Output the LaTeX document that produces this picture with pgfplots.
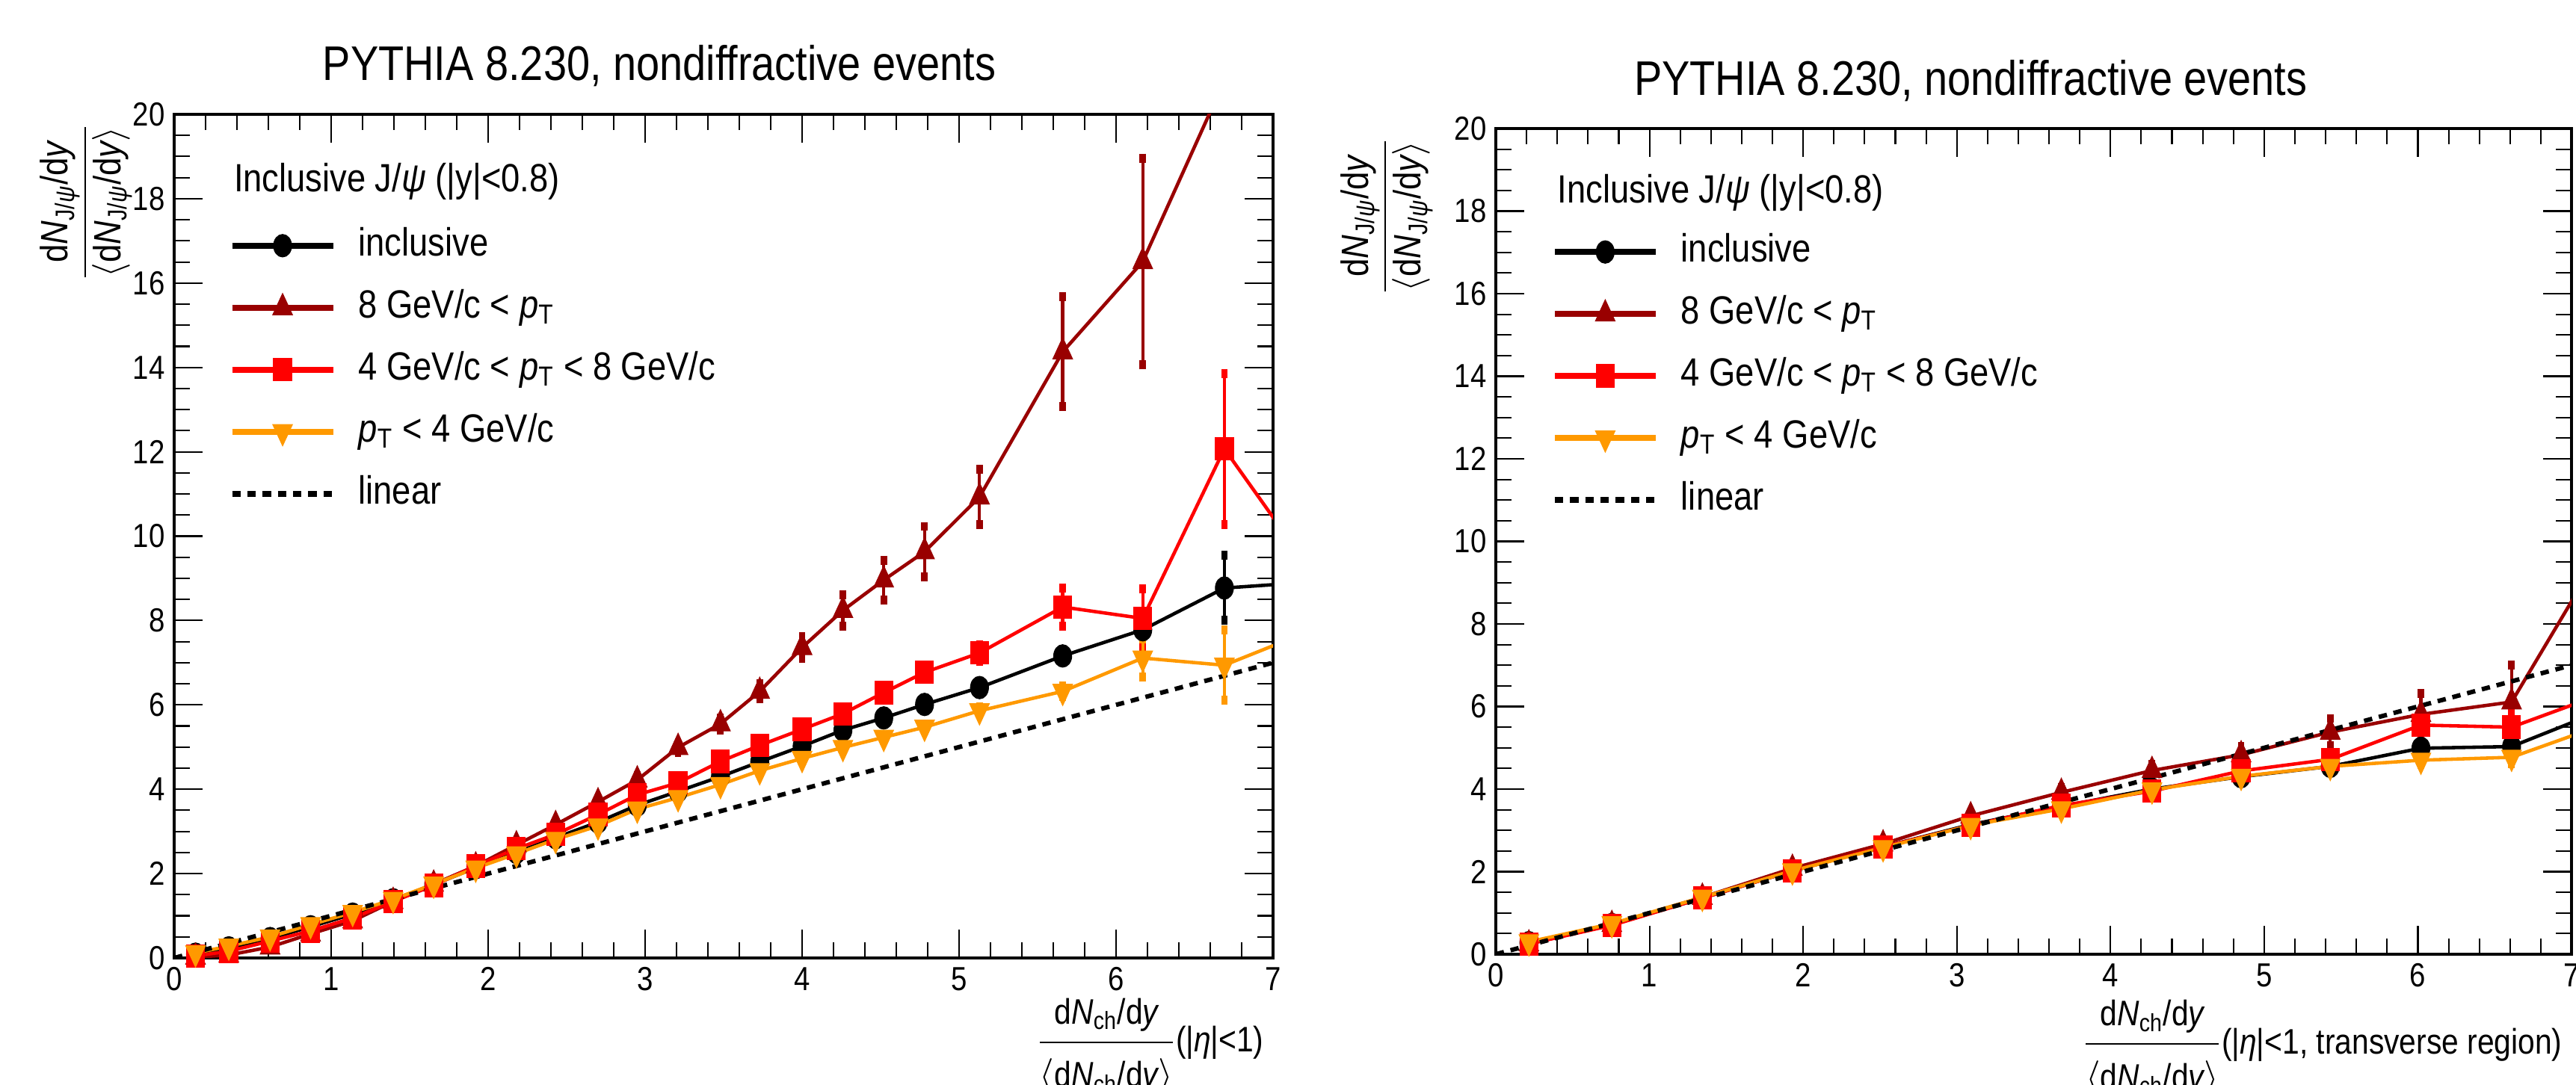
\documentclass[border=0pt]{standalone}
\usepackage{pgfplots}
\usepackage{pgfplotstable}
\pgfplotsset{compat=1.18}
\usepackage{amsmath}
\usepackage{fontspec}
\setmainfont{Liberation Sans}[FakeStretch=0.86]
\definecolor{cdred}{RGB}{153,0,0}
\definecolor{cred}{RGB}{255,0,0}
\definecolor{corange}{RGB}{255,153,0}

% ---------------- left panel data (|eta|<1) ----------------
\pgfplotstableread{
x y e
0.136 0.09 0.02
0.348 0.24 0.02
0.611 0.46 0.02
0.869 0.74 0.02
1.137 1.04 0.02
1.395 1.38 0.02
1.653 1.74 0.03
1.921 2.14 0.03
2.180 2.50 0.03
2.430 2.85 0.03
2.700 3.22 0.03
2.950 3.62 0.04
3.210 3.95 0.04
3.480 4.30 0.05
3.730 4.65 0.06
4.000 5.02 0.07
4.260 5.40 0.08
4.520 5.69 0.09
4.780 6.01 0.10
5.130 6.41 0.12
5.660 7.16 0.15
6.170 7.78 0.30
6.690 8.77 0.77
7.200 8.90 0
}\Lblack
\pgfplotstableread{
x y e
0.136 0.02 0.02
0.348 0.07 0.02
0.611 0.26 0.03
0.869 0.57 0.03
1.137 0.88 0.03
1.395 1.34 0.04
1.653 1.75 0.04
1.921 2.18 0.05
2.180 2.68 0.05
2.430 3.16 0.06
2.700 3.70 0.08
2.950 4.22 0.10
3.210 4.99 0.12
3.480 5.55 0.14
3.730 6.32 0.18
4.000 7.36 0.25
4.260 8.24 0.37
4.520 8.96 0.47
4.780 9.63 0.60
5.130 10.93 0.65
5.660 14.37 1.30
6.170 16.51 2.45
6.690 20.80 0
7.200 26.00 0
}\Ldred
\pgfplotstableread{
x y e
0.136 0.05 0.02
0.348 0.16 0.02
0.611 0.40 0.02
0.869 0.64 0.03
1.137 0.95 0.03
1.395 1.34 0.03
1.653 1.72 0.04
1.921 2.18 0.04
2.180 2.59 0.04
2.430 2.93 0.05
2.700 3.40 0.05
2.950 3.87 0.06
3.210 4.15 0.07
3.480 4.66 0.08
3.730 5.04 0.09
4.000 5.42 0.10
4.260 5.79 0.11
4.520 6.29 0.12
4.780 6.77 0.13
5.130 7.23 0.20
5.660 8.32 0.45
6.170 8.05 0.70
6.690 12.07 1.79
7.200 9.40 0
}\Lred
\pgfplotstableread{
x y e
0.136 0.12 0.02
0.348 0.28 0.02
0.611 0.50 0.02
0.869 0.79 0.02
1.137 1.08 0.02
1.395 1.39 0.02
1.653 1.75 0.02
1.921 2.13 0.03
2.180 2.47 0.03
2.430 2.81 0.03
2.700 3.13 0.03
2.950 3.53 0.04
3.210 3.80 0.04
3.480 4.11 0.04
3.730 4.44 0.05
4.000 4.73 0.05
4.260 4.99 0.06
4.520 5.23 0.07
4.780 5.47 0.08
5.130 5.86 0.09
5.660 6.32 0.12
6.170 7.11 0.45
6.690 6.94 0.83
7.200 7.70 0
}\Lorange

% ---------------- right panel data (transverse region) ----------------
\pgfplotstableread{
x y e
0.215 0.28 0.01
0.755 0.72 0.02
1.344 1.36 0.02
1.930 2.02 0.02
2.520 2.60 0.03
3.090 3.14 0.03
3.680 3.58 0.04
4.270 4.00 0.05
4.850 4.30 0.06
5.430 4.55 0.10
6.020 4.99 0.20
6.610 5.03 0.25
7.190 5.89 0
}\Rblack
\pgfplotstableread{
x y e
0.215 0.25 0.02
0.755 0.72 0.03
1.344 1.38 0.04
1.930 2.08 0.05
2.520 2.67 0.07
3.090 3.35 0.09
3.680 3.92 0.12
4.270 4.45 0.15
4.850 4.83 0.20
5.430 5.38 0.33
6.020 5.81 0.50
6.610 6.11 0.90
7.190 9.73 0
}\Rdred
\pgfplotstableread{
x y e
0.215 0.25 0.02
0.755 0.70 0.02
1.344 1.36 0.03
1.930 2.02 0.03
2.520 2.60 0.04
3.090 3.12 0.05
3.680 3.60 0.06
4.270 3.95 0.08
4.850 4.44 0.10
5.430 4.72 0.15
6.020 5.55 0.35
6.610 5.50 0.40
7.190 6.29 0
}\Rred
\pgfplotstableread{
x y e
0.215 0.30 0.01
0.755 0.74 0.01
1.344 1.38 0.02
1.930 2.02 0.02
2.520 2.58 0.02
3.090 3.12 0.03
3.680 3.52 0.03
4.270 3.98 0.04
4.850 4.31 0.05
5.430 4.55 0.06
6.020 4.70 0.10
6.610 4.77 0.15
7.190 5.54 0
}\Rorange

\newcommand{\xfrac}{\dfrac{\text{d}\textit{N}_{\text{ch}}\text{/d}\textit{y}\rule[-5pt]{0pt}{5pt}}{\rule{0pt}{15pt}\langle\text{d}\textit{N}_{\text{ch}}\text{/d}\textit{y}\rangle}}
\newcommand{\yfrac}{\dfrac{\text{d}\textit{N}_{\text{J/\textit{ψ}}}\text{/d}\textit{y}}{\langle\text{d}\textit{N}_{\text{J/\textit{ψ}}}\text{/d}\textit{y}\rangle}}

\pgfplotsset{
  rootstyle/.style={
    scale only axis, anchor=south west,
    xmin=0, xmax=7, ymin=0, ymax=20,
    xtick={0,1,...,7}, ytick={0,2,...,20},
    minor x tick num=4, minor y tick num=3,
    tick align=inside,
    major tick length=0.38cm, minor tick length=0.21cm,
    axis line style={line width=1pt},
    every tick/.style={black, line width=0.6pt},
    tick label style={font=\fontsize{12.7}{14}\selectfont},
    /pgf/number format/assume math mode=true,
    clip=true,
    every axis title/.style={font=\fontsize{18.5}{20}\selectfont, anchor=base, at={(0.4415,1.0407)}},
    every axis x label/.style={anchor=east, font=\fontsize{13.5}{15}\selectfont},
    every axis y label/.style={rotate=90, anchor=east, font=\fontsize{14.5}{16}\selectfont},
    legend cell align=left,
    legend style={draw=none, fill=none, inner sep=0pt, outer sep=0pt,
      row sep=0pt, column sep=0.3cm, anchor=north west,
      font=\fontsize{15}{16}\selectfont,
      nodes={inner ysep=0pt, inner xsep=0pt, text height=15.7pt, text depth=7.9pt}},
    legend image code/.code={%
      \draw[mark repeat=2, mark phase=2, ##1, line width=2.3pt]
        plot coordinates {(0cm,0cm) (0.675cm,0cm) (1.35cm,0cm)};},
  },
  ebar/.style={error bars/.cd, y dir=both, y explicit, error mark=-,
    error bar style={line width=1.2pt},
    error mark options={line width=2.5pt, mark size=1.7pt}},
  sblack/.style={black, line width=1.3pt, mark=*, mark size=4.3pt,
    mark options={solid, line width=0.3pt, xscale=0.8}},
  sdred/.style={cdred, line width=1.3pt, mark=triangle*, mark size=5.4pt,
    mark options={solid, line width=0.3pt, xscale=0.8}},
  sred/.style={cred, line width=1.3pt, mark=square*, mark size=4.3pt,
    mark options={solid, line width=0.3pt, xscale=0.8}},
  sorange/.style={corange, line width=1.3pt, mark=triangle*, mark size=5.4pt,
    mark options={solid, line width=0.3pt, xscale=0.8, rotate=180}},
  slin/.style={black, line width=1.7pt, dash pattern=on 3.2pt off 2.6pt, mark=none},
}

\begin{document}
\begin{tikzpicture}
\useasboundingbox (0,0) rectangle (34.46cm,14.52cm);

% ================= left panel =================
\begin{axis}[rootstyle,
  at={(2.33cm,1.70cm)}, width=14.70cm, height=11.29cm,
  title={PYTHIA 8.230, nondiffractive events},
  xlabel={$\xfrac$(|\textit{η}|<1)},
  xlabel style={at={(1,-0.106)}},
  ylabel={$\yfrac$},
  ylabel style={at={(-0.08,1)}},
  legend style={at={(0.050,0.881)}},
]
\addplot[sblack, ebar] table[x=x, y=y, y error=e] {\Lblack};
\addlegendentry{inclusive}
\addplot[sdred, ebar] table[x=x, y=y, y error=e] {\Ldred};
\addlegendentry{8 GeV/c < \textit{p}$_{\text{T}}$}
\addplot[sred, ebar] table[x=x, y=y, y error=e] {\Lred};
\addlegendentry{4 GeV/c < \textit{p}$_{\text{T}}$ < 8 GeV/c}
\addplot[sorange, ebar] table[x=x, y=y, y error=e] {\Lorange};
\addlegendentry{\textit{p}$_{\text{T}}$ < 4 GeV/c}
\addplot[slin] coordinates {(0,0) (7,7)};
\addlegendentry{linear}
\node[anchor=base west, font=\fontsize{15}{16}\selectfont] at (rel axis cs:0.046,0.908) {Inclusive J/\textit{ψ} (|y|<0.8)};
\end{axis}

% ================= right panel =================
\begin{axis}[rootstyle,
  at={(20.01cm,1.75cm)}, width=14.39cm, height=11.05cm,
  title={PYTHIA 8.230, nondiffractive events},
  xlabel={$\xfrac$(|\textit{η}|<1, transverse region)},
  xlabel style={at={(1,-0.115)}},
  ylabel={$\yfrac$},
  ylabel style={at={(-0.1015,1)}},
  legend style={at={(0.052,0.888)}},
]
\addplot[sblack, ebar] table[x=x, y=y, y error=e] {\Rblack};
\addlegendentry{inclusive}
\addplot[sdred, ebar] table[x=x, y=y, y error=e] {\Rdred};
\addlegendentry{8 GeV/c < \textit{p}$_{\text{T}}$}
\addplot[sred, ebar] table[x=x, y=y, y error=e] {\Rred};
\addlegendentry{4 GeV/c < \textit{p}$_{\text{T}}$ < 8 GeV/c}
\addplot[sorange, ebar] table[x=x, y=y, y error=e] {\Rorange};
\addlegendentry{\textit{p}$_{\text{T}}$ < 4 GeV/c}
\addplot[slin] coordinates {(0,0) (7,7)};
\addlegendentry{linear}
\node[anchor=base west, font=\fontsize{15}{16}\selectfont] at (rel axis cs:0.049,0.9095) {Inclusive J/\textit{ψ} (|y|<0.8)};
\end{axis}
\end{tikzpicture}
\end{document}
